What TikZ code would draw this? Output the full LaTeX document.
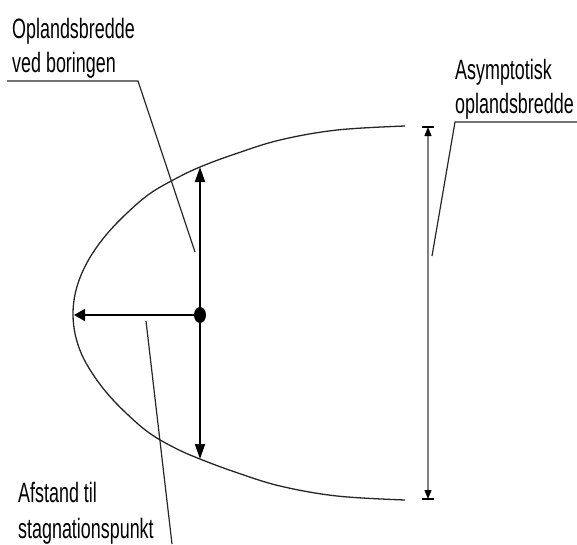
\documentclass[tikz,border=0pt]{standalone}
\usepackage{fontspec}
\setmainfont{Liberation Sans}
\usepackage{graphicx}
\usetikzlibrary{arrows.meta,shapes.geometric}
\newcommand{\nrw}[1]{\scalebox{0.64}[1]{#1}}
\tikzset{
  lbl/.style={anchor=base west, inner sep=0pt, font=\fontsize{28}{34}\selectfont},
  curveline/.style={line width=1.3pt, black!85},
  leader/.style={line width=1.2pt, black!85},
  mainarrow/.style={line width=1.8pt, -{Triangle[length=15pt,width=10pt]}},
  sidearrow/.style={line width=1.8pt, -{Triangle[length=11pt,width=12pt]}},
  asyarrow/.style={line width=1.2pt, gray, {Triangle[length=9pt,width=7pt,color=black]}-{Triangle[length=9pt,width=7pt,color=black]}},
  barline/.style={line width=1.3pt, black},
  welldot/.style={ellipse, fill=black, minimum width=12pt, minimum height=16pt, inner sep=0pt}
}
\begin{document}
\begin{tikzpicture}[x=1pt,y=-1pt]
\useasboundingbox (0,0) rectangle (577,544);
% capture zone boundary
\draw[curveline] plot[smooth, tension=0.6] coordinates {
  (405,126) (337,130) (280,140) (235,154) (200,167) (175,179) (149.3,194) (126,214)
  (106.9,234) (92.1,254) (81.5,274) (75.1,294) (73,314)
  (75.1,334) (81.5,354) (92.1,373) (106.9,393) (126,413) (149.3,433) (175,448)
  (200,459) (235,472) (280,486) (337,496) (405,500)};
% well
\node[welldot] (w) at (200,315) {};
\coordinate (ut) at (200,167);
\coordinate (dt) at (200,459);
\coordinate (lt) at (74,315);
\draw[mainarrow] (w) -- (ut);
\draw[mainarrow] (w) -- (dt);
\draw[sidearrow] (w) -- (lt);
% asymptotic width
\coordinate (at) at (428,127);
\coordinate (ab) at (428,499);
\coordinate (atl) at (422,127); \coordinate (atr) at (434,127);
\coordinate (abl) at (422,499); \coordinate (abr) at (434,499);
\draw[asyarrow] (at) -- (ab);
\draw[barline] (atl) -- (atr);
\draw[barline] (abl) -- (abr);
% labels
\node[lbl] (l1a) at (12,38) {\nrw{Oplandsbredde}};
\node[lbl] (l1b) at (12,72) {\nrw{ved boringen}};
\coordinate (u1s) at (7,81);
\coordinate (u1e) at (138,81);
\coordinate (e1) at (195,252);
\draw[leader] (u1s) -- (u1e) -- (e1);
\node[lbl] (l2a) at (455,79) {\nrw{Asymptotisk}};
\node[lbl] (l2b) at (455,113) {\nrw{oplandsbredde}};
\coordinate (u2s) at (577,122);
\coordinate (u2e) at (455,122);
\coordinate (e2) at (432,256);
\draw[leader] (u2s) -- (u2e) -- (e2);
\node[lbl] (l3a) at (18,502) {\nrw{Afstand til}};
\node[lbl] (l3b) at (18,538) {\nrw{stagnationspunkt}};
\coordinate (s3) at (146,321);
\coordinate (e3) at (172,544);
\draw[leader] (s3) -- (e3);
\end{tikzpicture}
\end{document}
